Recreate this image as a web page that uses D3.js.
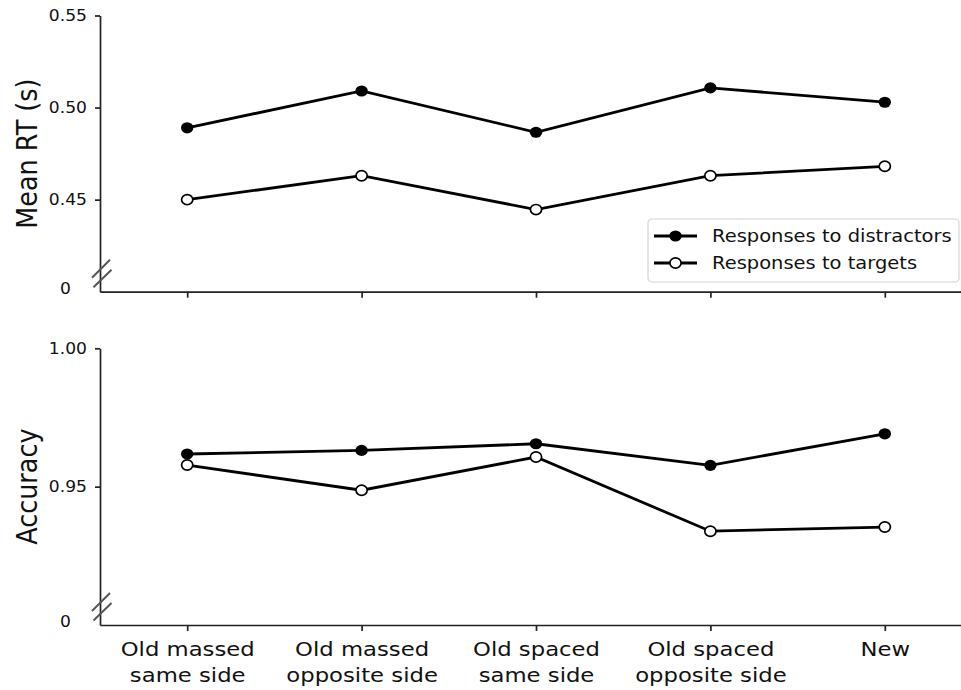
<!DOCTYPE html>
<html lang="en">
<head>
  <meta charset="UTF-8">
  <title>Mean RT and accuracy</title>
  <script src="https://d3js.org/d3.v7.min.js"></script>
  <style>
    body {
      margin: 0;
      background: #ffffff;
    }
    svg, svg text {
      font-family: 'DejaVu Sans', sans-serif;
    }
    .axis path, .axis line {
      stroke: #222;
      stroke-width: 1.7;
    }
    .axis text {
      fill: #111;
    }
  </style>
</head>
<body>
<svg width="961" height="690"></svg>

<script>
const categories = [
  "Old massed|same side",
  "Old massed|opposite side",
  "Old spaced|same side",
  "Old spaced|opposite side",
  "New"
];

// mean RT (s)
const rtDistractors = [0.489, 0.509, 0.4866, 0.5107, 0.5029];
const rtTargets     = [0.450, 0.463, 0.4446, 0.463, 0.4681];

// accuracy
const accDistractors = [0.9618, 0.9631, 0.9655, 0.9577, 0.9691];
const accTargets     = [0.9578, 0.9487, 0.9607, 0.9339, 0.9354];

const rtTicks = [0.45, 0.50, 0.55];
const accTicks = [0.95, 1.00];

const seriesNames = ["Responses to distractors", "Responses to targets"];

// the picture is a bit wider than tall, text comes out stretched
const SX = 1.12;

const svg = d3.select("svg");

const x = d3.scalePoint()
  .domain(categories)
  .range([100, 972])
  .padding(0.5);

const panels = [
  {
    y: d3.scaleLinear().domain([0.40, 0.55]).range([291.7, 15.5]),
    ticks: rtTicks,
    title: "Mean RT (s)",
    series: [rtDistractors, rtTargets],
    labels: false
  },
  {
    y: d3.scaleLinear().domain([0.90, 1.00]).range([625, 348.3]),
    ticks: accTicks,
    title: "Accuracy",
    series: [accDistractors, accTargets],
    labels: true
  }
];

const line = (y) => d3.line()
  .x((d, i) => x(categories[i]))
  .y(d => y(d));

function marker(sel, filled) {
  sel.attr("rx", filled ? 6.2 : 5.6)
    .attr("ry", filled ? 5.6 : 5.1)
    .attr("fill", filled ? "#000" : "#fff")
    .attr("stroke", "#000")
    .attr("stroke-width", filled ? 0 : 1.7);
}

panels.forEach(p => {
  const y = p.y;
  const bottom = y.range()[0];
  const g = svg.append("g");

  // y axis
  g.append("g")
    .attr("class", "axis")
    .attr("transform", "translate(100,0)")
    .call(d3.axisLeft(y).tickValues(p.ticks).tickFormat(d3.format(".2f"))
      .tickSize(5).tickSizeOuter(0).tickPadding(8))
    .attr("font-family", null)
    .call(a => a.selectAll("text")
      .style("font-size", "15.3px")
      .attr("x", -13 / SX)
      .attr("transform", `scale(${SX},1)`));

  // "0" label below the break
  g.append("text")
    .attr("transform", `translate(71,${bottom - 3}) scale(${SX},1)`)
    .attr("dy", "0.35em")
    .attr("text-anchor", "end")
    .style("font-size", "15.3px")
    .attr("fill", "#111")
    .text("0");

  // break marks
  [[92, -14, 110, -32], [93.5, -4.5, 111.5, -22]].forEach(m => {
    g.append("line")
      .attr("x1", m[0]).attr("y1", bottom + m[1])
      .attr("x2", m[2]).attr("y2", bottom + m[3])
      .attr("stroke", "#555")
      .attr("stroke-width", 2);
  });

  // x axis
  const xa = g.append("g")
    .attr("class", "axis")
    .attr("transform", `translate(0,${bottom})`)
    .call(d3.axisBottom(x).tickSize(6).tickSizeOuter(0).tickFormat(""))
    .attr("font-family", null);

  if (p.labels) {
    xa.selectAll(".tick text").remove();
    xa.selectAll(".tick").append("text")
      .attr("text-anchor", "middle")
      .attr("fill", "#111")
      .attr("transform", `scale(${SX},1)`)
      .style("font-size", "20.3px")
      .selectAll("tspan")
      .data(d => d.split("|"))
      .join("tspan")
      .attr("x", 0)
      .attr("y", (d, i) => 31 + i * 26)
      .text(d => d);
  }

  // axis title
  const yMid = (y.range()[0] + y.range()[1]) / 2;
  g.append("text")
    .attr("transform", `translate(37,${yMid}) rotate(-90) scale(1,${SX})`)
    .attr("text-anchor", "middle")
    .style("font-size", "25.5px")
    .attr("fill", "#111")
    .text(p.title);

  // series
  p.series.forEach((vals, si) => {
    g.append("path")
      .datum(vals)
      .attr("d", line(y))
      .attr("fill", "none")
      .attr("stroke", "#000")
      .attr("stroke-width", 2.8);

    g.selectAll(null)
      .data(vals)
      .join("ellipse")
      .attr("cx", (d, i) => x(categories[i]))
      .attr("cy", d => y(d))
      .call(marker, si === 0);
  });
});

// legend
const legend = svg.append("g").attr("transform", "translate(648,219)");
legend.append("rect")
  .attr("width", 311)
  .attr("height", 63)
  .attr("rx", 4)
  .attr("fill", "#fff")
  .attr("fill-opacity", 0.85)
  .attr("stroke", "#d4d4d4")
  .attr("stroke-width", 1.2);

seriesNames.forEach((name, i) => {
  const ly = 17 + i * 27;
  legend.append("line")
    .attr("x1", 6).attr("x2", 49)
    .attr("y1", ly).attr("y2", ly)
    .attr("stroke", "#000")
    .attr("stroke-width", 2.8);
  legend.append("ellipse")
    .attr("cx", 27.5).attr("cy", ly)
    .call(marker, i === 0);
  legend.append("text")
    .attr("transform", `translate(64,${ly}) scale(${SX},1)`)
    .attr("dy", "0.35em")
    .style("font-size", "17.4px")
    .attr("fill", "#111")
    .text(name);
});
</script>
</body>
</html>
